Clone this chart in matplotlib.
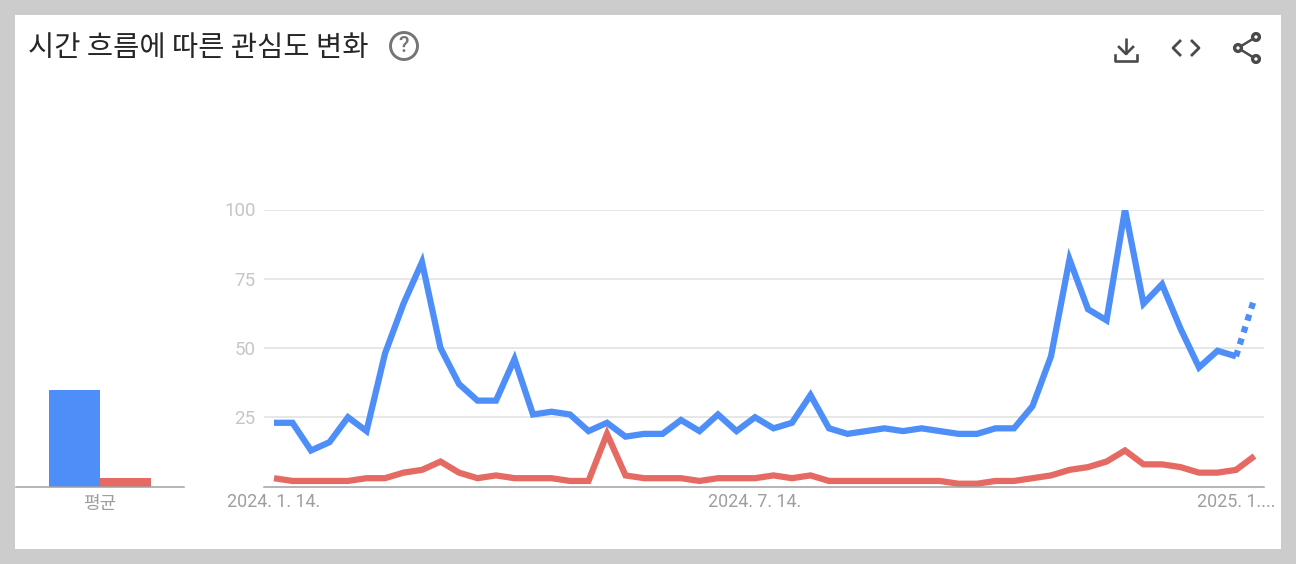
"""Interest over time chart, blue and red search terms with averages."""

import numpy as np
import matplotlib
matplotlib.use('Agg')
import matplotlib.pyplot as plt
from matplotlib.patches import Circle, Rectangle

plt.rcParams['font.family'] = ['Roboto', 'Noto Sans CJK KR', 'DejaVu Sans']

W, H = 1296, 564

title = '시간 흐름에 따른 관심도 변화'
avg_label = '평균'
y_ticks = [25, 50, 75, 100]
x_tick_pos = [0, 26, 52]
x_tick_labels = ['2024. 1. 14.', '2024. 7. 14.', '2025. 1....']

blue_values = [23, 23, 13, 16, 25, 20, 48, 66, 81, 50, 37, 31, 31, 46, 26, 27, 26, 20,
               23, 18, 19, 19, 24, 20, 26, 20, 25, 21, 23, 33, 21, 19, 20, 21, 20, 21,
               20, 19, 19, 21, 21, 29, 47, 82, 64, 60, 100, 66, 73, 57, 43, 49, 47, 68]
red_values = [3, 2, 2, 2, 2, 3, 3, 5, 6, 9, 5, 3, 4, 3, 3, 3, 2, 2,
              19, 4, 3, 3, 3, 2, 3, 3, 3, 4, 3, 4, 2, 2, 2, 2, 2, 2,
              2, 1, 1, 2, 2, 3, 4, 6, 7, 9, 13, 8, 8, 7, 5, 5, 6, 11]
avg_values = [34.7, 3.2]

BLUE = '#4d8ef8'
RED = '#e66a64'
GRID = '#e0e0e0'
BASE = '#a0a0a0'
ICON = '#4a4a4a'
LINE_W = 4.5


def px_axes(fig, left, top, right, bottom):
    return fig.add_axes([left / W, 1 - bottom / H, (right - left) / W, (bottom - top) / H])


fig = plt.figure(figsize=(W / 100, H / 100), dpi=100, facecolor='#cccccc')

# Overlay in pixel coordinates for the white card and the header
bg = fig.add_axes([0, 0, 1, 1])
bg.set_xlim(0, W)
bg.set_ylim(H, 0)
bg.axis('off')
bg.add_patch(Rectangle((15, 15), 1266, 534, fc='white', ec='none'))
bg.text(28, 48.5, title, fontsize=20.5, color='#262626', va='center', ha='left',
        family=['Noto Sans CJK KR', 'DejaVu Sans'])

# Help icon
bg.add_patch(Circle((404, 46), 13.5, fc='none', ec='#757575', lw=2.1))
bg.text(404, 46.5, '?', fontsize=15.5, color='#757575', ha='center', va='center', weight='medium')

# Download icon
bg.plot([1126, 1126], [38, 54], color=ICON, lw=1.9, solid_capstyle='butt')
bg.plot([1119, 1126, 1133], [47, 54, 47], color=ICON, lw=1.9)
bg.plot([1115, 1115, 1137, 1137], [55, 60.5, 60.5, 55], color=ICON, lw=1.9, solid_joinstyle='round')

# Embed icon
bg.plot([1180, 1173, 1180], [41, 48, 55], color=ICON, lw=2)
bg.plot([1192, 1199, 1192], [41, 48, 55], color=ICON, lw=2)

# Share icon
bg.plot([1256, 1238, 1256], [37, 48, 59], color=ICON, lw=1.8)
for cx, cy in [(1256, 37), (1238, 48), (1256, 59)]:
    bg.add_patch(Circle((cx, cy), 3.4, fc='white', ec=ICON, lw=2.4, zorder=3))

# Average bars
ax_avg = px_axes(fig, 16, 209.5, 184, 486.5)
ax_avg.patch.set_alpha(0)
ax_avg.bar([0, 1], avg_values, width=1, color=[BLUE, RED], align='edge')
ax_avg.set_xlim(-33 / 51, 135 / 51)
ax_avg.set_ylim(0, 100)
ax_avg.set_yticks([])
ax_avg.set_xticks([1])
ax_avg.set_xticklabels([avg_label], fontsize=13, color='#9e9e9e',
                       family=['Noto Sans CJK KR', 'DejaVu Sans'])
ax_avg.tick_params(axis='x', length=0, pad=6)
for s in ['top', 'left', 'right']:
    ax_avg.spines[s].set_visible(False)
ax_avg.spines['bottom'].set_color(BASE)
ax_avg.spines['bottom'].set_linewidth(1.1)

# Main line chart
ax = px_axes(fig, 264, 209.5, 1264, 486.5)
ax.patch.set_alpha(0)
x = np.arange(len(blue_values))
ax.set_xlim(-10 / 18.5, 990 / 18.5)
ax.set_ylim(0, 100)
ax.set_yticks(y_ticks)
ax.set_yticklabels([str(v) for v in y_ticks], fontsize=13.5, color='#c6c6c6')
ax.set_xticks(x_tick_pos)
ax.set_xticklabels(x_tick_labels, fontsize=12.9, color='#9e9e9e')
ax.tick_params(axis='both', length=0)
ax.tick_params(axis='y', pad=6)
ax.tick_params(axis='x', pad=4.5)
ax.grid(axis='y', color=GRID, lw=1.1)
ax.set_axisbelow(True)
for s in ['top', 'left', 'right']:
    ax.spines[s].set_visible(False)
ax.spines['bottom'].set_color(BASE)
ax.spines['bottom'].set_linewidth(1.1)

ax.plot(x[:-1], blue_values[:-1], color=BLUE, lw=LINE_W, solid_joinstyle='miter', solid_capstyle='butt')
ax.plot(x[-2:], blue_values[-2:], color=BLUE, lw=LINE_W, linestyle=(0, (1.0, 1.0)), dash_capstyle='butt')
ax.plot(x, red_values, color=RED, lw=LINE_W, solid_joinstyle='miter', solid_capstyle='butt')

fig.savefig('out.png', dpi=100, facecolor=fig.get_facecolor())
